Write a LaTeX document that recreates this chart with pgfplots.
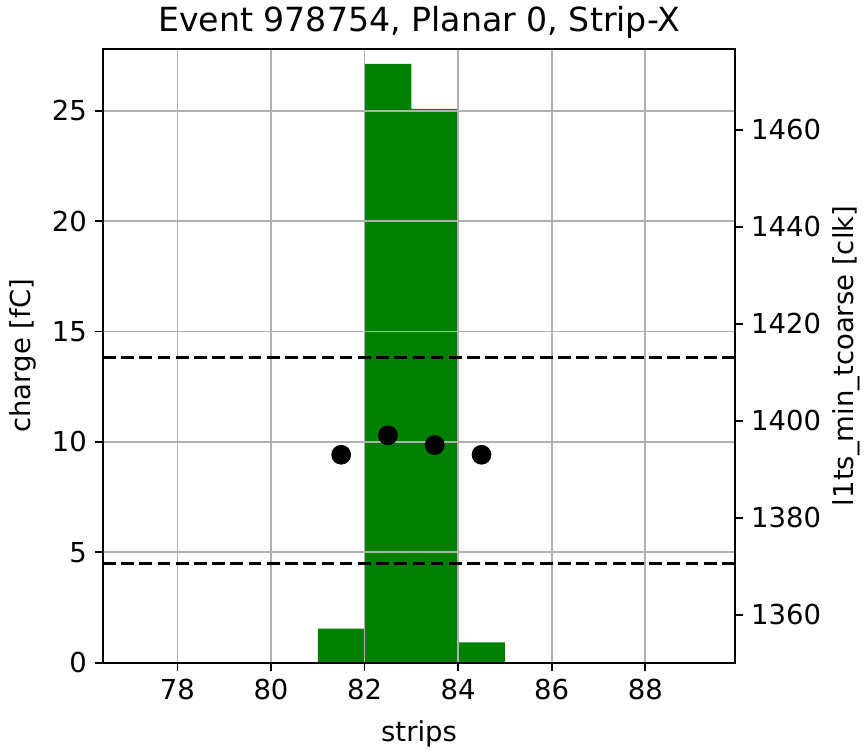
\documentclass[border=0pt]{standalone}
\usepackage{fontspec}
\setmainfont{DejaVu Sans}
\usepackage{pgfplots}
\pgfplotsset{compat=1.18}
\definecolor{mplgreen}{HTML}{008000}
\definecolor{mplgrid}{HTML}{B0B0B0}

\pgfplotsset{
  mplbase/.style={
    scale only axis, width=276pt, height=268pt,
    xmin=76.41, xmax=89.92,
    tick align=outside, major tick length=3.5pt,
    every tick/.style={black, line width=0.8pt},
    axis line style={line width=0.8pt},
    tick label style={font=\fontsize{12}{14}\selectfont},
    label style={font=\fontsize{12}{14}\selectfont},
    /pgf/number format/assume math mode=true,
    /pgf/number format/1000 sep={},
  }
}

\begin{document}
\begin{tikzpicture}
% left axis: charge histogram
\begin{axis}[mplbase, name=main,
    ymin=0, ymax=27.8,
    xtick={78,80,...,88}, ytick={0,5,...,25},
    tick pos=left,
    grid=major, grid style={mplgrid, line width=0.8pt},
    axis on top,
    xlabel={strips}, ylabel={charge [fC]},
    xlabel style={yshift=-2.5pt},
    title={Event 978754, Planar 0, Strip-X},
    title style={font=\fontsize{14.5}{17}\selectfont, yshift=-5pt},
]
\addplot[ybar interval, fill=mplgreen, draw=none]
  coordinates {(81,1.54)(82,27.13)(83,25.09)(84,0.92)(85,0)};
\end{axis}

% right axis: time
\begin{axis}[mplbase,
    ymin=1350.1, ymax=1476.7,
    axis y line*=right, axis x line=none,
    ytick={1360,1380,...,1460},
    ylabel={l1ts\_min\_tcoarse [clk]},
    ylabel style={yshift=2pt},
]
\addplot[black, line width=1.5pt, dash pattern=on 5.55pt off 2.4pt]
  coordinates {(76.41,1413.1)(89.92,1413.1)};
\addplot[black, line width=1.5pt, dash pattern=on 5.55pt off 2.4pt]
  coordinates {(76.41,1370.6)(89.92,1370.6)};
\addplot[only marks, mark=*, mark size=4.1pt, black]
  coordinates {(81.5,1393)(82.5,1397)(83.5,1395)(84.5,1393)};
\end{axis}

\pgfresetboundingbox
\path ([xshift=-45pt,yshift=-38pt]main.south west) rectangle ([xshift=56.3pt,yshift=21.4pt]main.north east);
\end{tikzpicture}
\end{document}
